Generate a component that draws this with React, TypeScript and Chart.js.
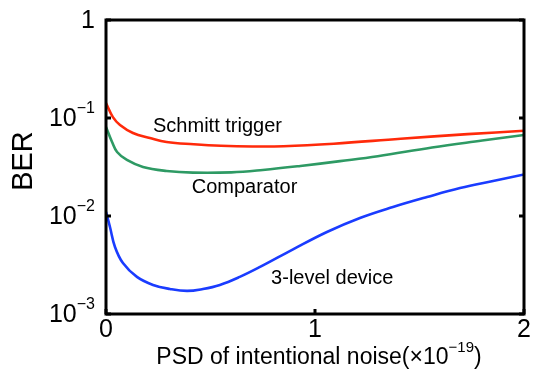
import React, { useEffect, useRef } from "react";
import { Chart, registerables } from "chart.js";

Chart.register(...registerables);

const xSchmitt = [0, 0.033, 0.067, 0.129, 0.21, 0.29, 0.42, 0.55, 0.7, 0.85, 1.09, 1.41, 1.73, 2.0];
const schmitt = [0.142, 0.102, 0.0849, 0.0703, 0.0625, 0.0569, 0.054, 0.0521, 0.0512, 0.0515, 0.0547, 0.0614, 0.0684, 0.074];

const xComp = [0, 0.029, 0.053, 0.1, 0.177, 0.29, 0.416, 0.6, 0.75, 0.93, 1.12, 1.3, 1.56, 1.8, 2.0];
const comparator = [0.081, 0.0569, 0.045, 0.0373, 0.0316, 0.0288, 0.0277, 0.0279, 0.0295, 0.0324, 0.0363, 0.0407, 0.0501, 0.0589, 0.0671];

const xLevel = [0, 0.019, 0.043, 0.081, 0.148, 0.225, 0.306, 0.388, 0.464, 0.545, 0.64, 0.737, 0.895, 1.057, 1.215, 1.373, 1.536, 1.694, 1.852, 2.0];
const threeLevel = [0.011, 0.00773, 0.00483, 0.00331, 0.00239, 0.00198, 0.0018, 0.00172, 0.0018, 0.00198, 0.00239, 0.00302, 0.00457, 0.00687, 0.00955, 0.01236, 0.01563, 0.0193, 0.0228, 0.0265];

const xTicks = [0, 1, 2];
const xTickLabels = ["0", "1", "2"];
const yTicks = [0.001, 0.01, 0.1, 1];
const yTickBase = ["10", "10", "10", "1"];
const yTickExp = ["\u22123", "\u22122", "\u22121", ""];

const xTitle = "PSD of intentional noise(\u00d710";
const xTitleExp = "\u221219";
const yTitle = "BER";

const annotations = [
  { text: "Schmitt trigger", x: 0.225, y: 0.082 },
  { text: "Comparator", x: 0.41, y: 0.0195 },
  { text: "3-level device", x: 0.79, y: 0.0023 },
];

const FONT = "'Liberation Sans', Arial, Helvetica, sans-serif";

const framePlugin = {
  id: "framePlugin",
  afterDatasetsDraw(chart: any) {
    const { ctx, chartArea } = chart;
    const xs = chart.scales.x;
    const ys = chart.scales.y;
    const { left, right, top, bottom } = chartArea;
    ctx.save();
    ctx.strokeStyle = "#000";
    ctx.lineWidth = 3;
    ctx.strokeRect(left, top, right - left, bottom - top);
    ctx.beginPath();
    yTicks.forEach((v) => {
      const py = ys.getPixelForValue(v);
      ctx.moveTo(left, py);
      ctx.lineTo(left + 5, py);
      ctx.moveTo(right, py);
      ctx.lineTo(right - 5, py);
    });
    xTicks.forEach((v) => {
      const px = xs.getPixelForValue(v);
      ctx.moveTo(px, bottom);
      ctx.lineTo(px, bottom - 5);
    });
    ctx.stroke();

    ctx.fillStyle = "#000";
    yTicks.forEach((v, i) => {
      const py = ys.getPixelForValue(v);
      const base = yTickBase[i];
      const exp = yTickExp[i];
      ctx.textBaseline = "middle";
      ctx.font = `16px ${FONT}`;
      const expW = exp ? ctx.measureText(exp).width : 0;
      const rightEdge = left - 11;
      if (exp) {
        ctx.textAlign = "right";
        ctx.fillText(exp, rightEdge, py - 9);
      }
      ctx.font = `25px ${FONT}`;
      ctx.textAlign = "right";
      ctx.fillText(base, rightEdge - expW, py + 1);
    });
    xTicks.forEach((v, i) => {
      const px = xs.getPixelForValue(v);
      ctx.font = `25px ${FONT}`;
      ctx.textAlign = "center";
      ctx.textBaseline = "middle";
      ctx.fillText(xTickLabels[i], px, bottom + 16);
    });
    ctx.font = `23px ${FONT}`;
    const w1 = ctx.measureText(xTitle).width;
    ctx.font = `15px ${FONT}`;
    const w2 = ctx.measureText(xTitleExp).width;
    ctx.font = `23px ${FONT}`;
    const w3 = ctx.measureText(")").width;
    const total = w1 + w2 + w3;
    const cx = (left + right) / 2 + 4;
    const sx = cx - total / 2;
    ctx.textAlign = "left";
    ctx.textBaseline = "middle";
    const ty = bottom + 44;
    ctx.fillText(xTitle, sx, ty);
    ctx.font = `15px ${FONT}`;
    ctx.fillText(xTitleExp, sx + w1, ty - 10);
    ctx.font = `23px ${FONT}`;
    ctx.fillText(")", sx + w1 + w2, ty);
    ctx.save();
    ctx.translate(24, (top + bottom) / 2 - 6);
    ctx.rotate(-Math.PI / 2);
    ctx.font = `29px ${FONT}`;
    ctx.textAlign = "center";
    ctx.textBaseline = "middle";
    ctx.fillText(yTitle, 0, 0);
    ctx.restore();
    ctx.font = `20px ${FONT}`;
    ctx.textAlign = "left";
    ctx.textBaseline = "middle";
    annotations.forEach((a) => {
      ctx.fillText(a.text, xs.getPixelForValue(a.x), ys.getPixelForValue(a.y));
    });
    ctx.restore();
  },
};

export default function App() {
  const ref = useRef<HTMLCanvasElement>(null);
  useEffect(() => {
    document.body.style.margin = "0";
    const canvas = ref.current!;
    const toPts = (xs: number[], ys: number[]) => xs.map((x, i) => ({ x, y: ys[i] }));
    const common = { borderWidth: 2.6, pointRadius: 0, tension: 0.4 };
    const chart = new Chart(canvas, {
      type: "line",
      data: {
        datasets: [
          { label: "Schmitt trigger", data: toPts(xSchmitt, schmitt), borderColor: "#ff2a0a", ...common },
          { label: "Comparator", data: toPts(xComp, comparator), borderColor: "#2e9a64", ...common },
          { label: "3-level device", data: toPts(xLevel, threeLevel), borderColor: "#1a3cff", ...common },
        ],
      },
      options: {
        animation: false,
        responsive: false,
        layout: { padding: { left: 106, top: 20, right: 12, bottom: 62 } },
        plugins: { legend: { display: false }, tooltip: { enabled: false } },
        scales: {
          x: { type: "linear", min: 0, max: 2, display: false },
          y: { type: "logarithmic", min: 0.001, max: 1, display: false },
        },
      },
      plugins: [framePlugin],
    });
    return () => chart.destroy();
  }, []);
  return <canvas ref={ref} width={536} height={376} style={{ display: "block" }} />;
}
